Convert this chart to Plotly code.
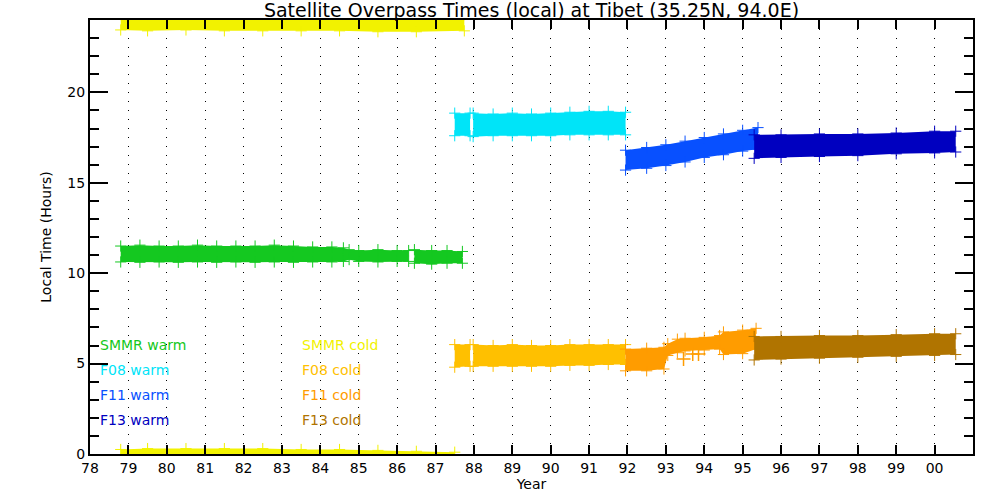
import plotly.graph_objects as go

# Satellite overpass local times at Tibet (35.25N, 94.0E)
# each band: year samples, lower / upper edge of the band (hours); None = gap

smmr_warm_x = [78.8, 79.3, 79.8, 80.3, 80.8, 81.3, 81.8, 82.3, 82.8, 83.3, 83.8, 84.3, 84.6, 84.75, 85.0, 85.5, 86.0, 86.3, None, 86.45, 86.9, 87.3, 87.7]
smmr_warm_lo = [10.62, 10.6, 10.62, 10.6, 10.62, 10.6, 10.62, 10.6, 10.62, 10.6, 10.62, 10.62, 10.65, 10.75, 10.65, 10.62, 10.65, 10.65, None, 10.55, 10.5, 10.55, 10.55]
smmr_warm_hi = [11.5, 11.55, 11.5, 11.5, 11.55, 11.5, 11.5, 11.5, 11.55, 11.5, 11.45, 11.45, 11.4, 11.3, 11.25, 11.3, 11.25, 11.25, None, 11.3, 11.25, 11.25, 11.2]

smmr_cold_top_x = [78.8, 79.5, 80.5, 81.5, 82.5, 83.5, 84.5, 85.5, 86.5, 87.75]
smmr_cold_top_lo = [23.45, 23.4, 23.45, 23.4, 23.4, 23.4, 23.4, 23.35, 23.35, 23.4]
smmr_cold_top_hi = [24.3, 24.3, 24.3, 24.3, 24.3, 24.3, 24.3, 24.3, 24.3, 24.3]

smmr_cold_bot_x = [78.8, 79.5, 80.5, 81.5, 82.5, 83.5, 84.5, 85.5, 86.5, 87.5]
smmr_cold_bot_lo = [-0.3, -0.3, -0.3, -0.3, -0.3, -0.3, -0.3, -0.3, -0.3, -0.3]
smmr_cold_bot_hi = [0.25, 0.3, 0.3, 0.3, 0.3, 0.25, 0.25, 0.2, 0.15, 0.1]

f08_warm_x = [87.5, 87.9, None, 87.98, 88.5, 89.0, 89.5, 90.0, 90.5, 91.0, 91.5, 91.95]
f08_warm_lo = [17.6, 17.6, None, 17.55, 17.6, 17.6, 17.6, 17.6, 17.65, 17.65, 17.65, 17.65]
f08_warm_hi = [18.85, 18.85, None, 18.85, 18.8, 18.85, 18.8, 18.85, 18.9, 18.95, 18.95, 18.9]

f08_cold_x = [87.5, 87.9, None, 87.98, 88.5, 89.0, 89.5, 90.0, 90.5, 91.0, 91.5, 91.95]
f08_cold_lo = [4.8, 4.85, None, 4.85, 4.85, 4.85, 4.85, 4.85, 4.9, 4.9, 4.95, 4.95]
f08_cold_hi = [6.05, 6.05, None, 6.05, 6.0, 6.05, 6.0, 6.0, 6.05, 6.05, 6.05, 6.05]

f11_warm_x = [91.95, 92.5, 93.0, 93.5, 94.0, 94.5, 95.0, 95.4]
f11_warm_lo = [15.7, 15.8, 15.95, 16.15, 16.4, 16.55, 16.75, 16.85]
f11_warm_hi = [16.8, 16.95, 17.1, 17.3, 17.5, 17.7, 17.9, 18.05]

f11_cold_x = [91.95, 92.5, 92.95, 93.05, 93.3, 93.5, 94.0, 94.4, 94.5, 95.0, 95.35]
f11_cold_lo = [4.6, 4.6, 4.7, 5.45, 5.6, 5.7, 5.75, 5.8, 5.5, 5.55, 5.8]
f11_cold_hi = [5.8, 5.85, 5.9, 6.1, 6.35, 6.4, 6.45, 6.55, 6.75, 6.85, 6.95]

f11_cold_stray_x = [93.46, 93.7, 93.85]
f11_cold_stray_y = [5.25, 5.53, 5.53]

f13_warm_x = [95.3, 96.0, 97.0, 98.0, 99.0, 100.0, 100.55]
f13_warm_lo = [16.35, 16.4, 16.45, 16.5, 16.6, 16.65, 16.7]
f13_warm_hi = [17.65, 17.65, 17.7, 17.7, 17.75, 17.85, 17.85]

f13_cold_x = [95.3, 96.0, 97.0, 98.0, 99.0, 100.0, 100.55]
f13_cold_lo = [5.2, 5.25, 5.3, 5.35, 5.4, 5.45, 5.5]
f13_cold_hi = [6.5, 6.5, 6.55, 6.55, 6.6, 6.65, 6.65]

year_ticks = list(range(78, 101))
year_labels = ['%02d' % (y % 100) for y in year_ticks]

legend_names = ['SMMR warm', 'F08 warm', 'F11 warm', 'F13 warm',
                'SMMR cold', 'F08 cold', 'F11 cold', 'F13 cold']

GREEN = '#14c820'
YELLOW = '#f2f200'
CYAN = '#00e4f8'
BLUE = '#0850ff'
NAVY = '#0000c0'
GOLD = '#ffc000'
ORANGE = '#ff9c00'
BROWN = '#b07400'
legend_colors = [GREEN, CYAN, BLUE, NAVY, YELLOW, GOLD, ORANGE, BROWN]


def segments(xs, lo, hi):
    segs, cur = [], []
    for x, a, b in zip(xs, lo, hi):
        if x is None:
            if cur:
                segs.append(cur)
            cur = []
        else:
            cur.append((x, a, b))
    if cur:
        segs.append(cur)
    return segs


fig = go.Figure()


def add_band(xs, lo, hi, color):
    px, py, mx, my = [], [], [], []
    for seg in segments(xs, lo, hi):
        sx = [s[0] for s in seg]
        sl = [s[1] for s in seg]
        sh = [s[2] for s in seg]
        px += sx + sx[::-1] + [None]
        py += sl + sh[::-1] + [None]
        mx += sx + sx
        my += sl + sh
    fig.add_trace(go.Scatter(x=px, y=py, fill='toself', fillcolor=color,
                             mode='lines', line=dict(width=0, color=color),
                             hoverinfo='skip', showlegend=False))
    fig.add_trace(go.Scatter(x=mx, y=my, mode='markers',
                             marker=dict(symbol='cross-thin', size=8,
                                         line=dict(width=1, color=color)),
                             hoverinfo='skip', showlegend=False))


add_band(smmr_warm_x, smmr_warm_lo, smmr_warm_hi, GREEN)
add_band(smmr_cold_top_x, smmr_cold_top_lo, smmr_cold_top_hi, YELLOW)
add_band(smmr_cold_bot_x, smmr_cold_bot_lo, smmr_cold_bot_hi, YELLOW)
add_band(f08_warm_x, f08_warm_lo, f08_warm_hi, CYAN)
add_band(f08_cold_x, f08_cold_lo, f08_cold_hi, GOLD)
add_band(f11_warm_x, f11_warm_lo, f11_warm_hi, BLUE)
add_band(f11_cold_x, f11_cold_lo, f11_cold_hi, ORANGE)
add_band(f13_warm_x, f13_warm_lo, f13_warm_hi, NAVY)
add_band(f13_cold_x, f13_cold_lo, f13_cold_hi, BROWN)

fig.add_trace(go.Scatter(x=f11_cold_stray_x, y=f11_cold_stray_y, mode='markers',
                         marker=dict(symbol='cross-thin', size=10,
                                     line=dict(width=1.5, color=ORANGE)),
                         hoverinfo='skip', showlegend=False))

# in-plot legend text, two columns
legend_x = [78.22] * 4 + [83.46] * 4
legend_y = [6.03, 4.65, 3.26, 1.88] * 2
for name, c, lx, ly in zip(legend_names, legend_colors, legend_x, legend_y):
    fig.add_annotation(x=lx, y=ly, xref='x', yref='y', text=name, showarrow=False,
                       xanchor='left', yanchor='middle',
                       font=dict(size=14, color=c, family='DejaVu Sans'))

fig.update_layout(
    width=1000, height=500,
    margin=dict(l=90, r=27, t=20, b=46),
    paper_bgcolor='white', plot_bgcolor='white',
    font=dict(family='DejaVu Sans', size=14, color='black'),
    title=dict(text='Satellite Overpass Times (local) at Tibet (35.25N, 94.0E)',
               x=0.5, xref='paper', xanchor='center',
               y=0.98, yref='container', yanchor='middle',
               font=dict(size=19)),
    showlegend=False,
)

fig.update_xaxes(
    range=[78, 101], tickvals=year_ticks, ticktext=year_labels,
    ticks='inside', ticklen=9, tickwidth=2, tickcolor='black',
    showline=True, linewidth=2, linecolor='black', mirror='ticks',
    showgrid=True, gridcolor='black', gridwidth=1, griddash='1px,8px',
    zeroline=False,
    title=dict(text='Year', standoff=2, font=dict(size=14)),
)
fig.update_yaxes(
    range=[0, 24], tickvals=[0, 5, 10, 15, 20],
    ticks='inside', ticklen=18, tickwidth=2, tickcolor='black',
    minor=dict(ticks='inside', ticklen=9, tickwidth=2, tickcolor='black', dtick=1, showgrid=False),
    showline=True, linewidth=2, linecolor='black', mirror='ticks',
    showgrid=False, zeroline=False,
    title=dict(text='Local Time (Hours)', standoff=12, font=dict(size=14)),
)

# drop the default page margin so the figure sits at the window corner
fig.write_html('out.html', config={'displayModeBar': False},
               post_script="document.body.style.margin='0';document.body.style.overflow='hidden';")
